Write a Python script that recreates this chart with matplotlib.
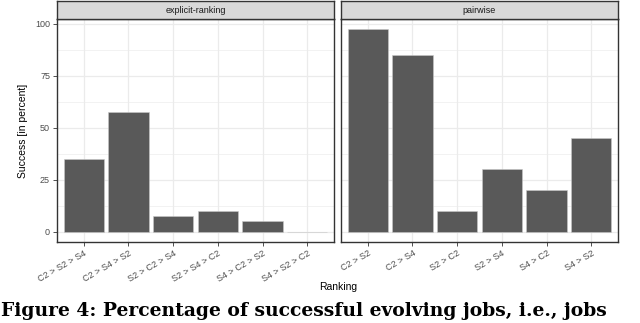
import matplotlib.pyplot as plt
from matplotlib.patches import Rectangle

# data
panels = ["explicit-ranking", "pairwise"]
explicit_labels = ["C2 > S2 > S4", "C2 > S4 > S2", "S2 > C2 > S4",
                   "S2 > S4 > C2", "S4 > C2 > S2", "S4 > S2 > C2"]
explicit_values = [35, 57.5, 7.5, 10, 5, 0]
pairwise_labels = ["C2 > S2", "C2 > S4", "S2 > C2", "S2 > S4", "S4 > C2", "S4 > S2"]
pairwise_values = [97.5, 85, 10, 30, 20, 45]

W, H = 640, 323
fig = plt.figure(figsize=(W / 100, H / 100), dpi=100)
plt.rcParams['font.family'] = ['Liberation Sans', 'DejaVu Sans']


def px(x0, y0, x1, y1):
    return [x0 / W, 1 - y1 / H, (x1 - x0) / W, (y1 - y0) / H]


def panel(rect, strip_rect, title, labels, values, show_y):
    ax = fig.add_axes(px(*rect))
    x = list(range(1, len(values) + 1))
    ax.bar(x, values, width=0.9, color="#595959", edgecolor="#c8c8c8",
           linewidth=0.4, zorder=3)
    ax.set_xlim(0.4, len(values) + 0.6)
    ax.set_ylim(-4.9, 102.4)
    ax.set_yticks([0, 25, 50, 75, 100])
    ax.set_yticks([12.5, 37.5, 62.5, 87.5], minor=True)
    ax.set_xticks(x)
    ax.set_xticklabels(labels, rotation=30, ha="right", rotation_mode="anchor",
                       fontsize=6.5, color="#4d4d4d")
    ax.grid(True, which="major", color="#ebebeb", linewidth=0.9, zorder=0)
    ax.grid(True, which="minor", axis="y", color="#ebebeb", linewidth=0.45, zorder=0)
    ax.tick_params(axis="both", which="major", length=3, width=0.6,
                   color="#333333", labelsize=6.5, labelcolor="#4d4d4d", pad=2)
    ax.tick_params(axis="y", which="minor", length=0)
    if not show_y:
        ax.tick_params(axis="y", which="major", left=False, labelleft=False)
    for s in ax.spines.values():
        s.set_color("#333333")
        s.set_linewidth(1.0)

    sax = fig.add_axes(px(*strip_rect))
    sax.set_xlim(0, 1)
    sax.set_ylim(0, 1)
    sax.add_patch(Rectangle((0, 0), 1, 1, facecolor="#d9d9d9", edgecolor="none"))
    sax.text(0.5, 0.45, title, ha="center", va="center", fontsize=6.5, color="#1a1a1a")
    sax.set_xticks([])
    sax.set_yticks([])
    for s in sax.spines.values():
        s.set_color("#333333")
        s.set_linewidth(1.0)
    return ax


ax1 = panel((57, 19, 334, 242), (57, 1, 334, 19), panels[0],
            explicit_labels, explicit_values, True)
ax2 = panel((341, 19, 618, 242), (341, 1, 618, 19), panels[1],
            pairwise_labels, pairwise_values, False)

ax1.set_ylabel("Success [in percent]", fontsize=7.5, color="black", labelpad=5)
fig.text(338 / W, 1 - 287 / H, "Ranking", ha="center", va="center", fontsize=7.5)

fig.text(1 / W, 1 - 302 / H, "Figure 4: Percentage of successful evolving jobs, i.e., jobs",
         ha="left", va="top", fontsize=13.5, fontweight="bold",
         family=["DejaVu Serif"])

fig.savefig("out.png", dpi=100)
